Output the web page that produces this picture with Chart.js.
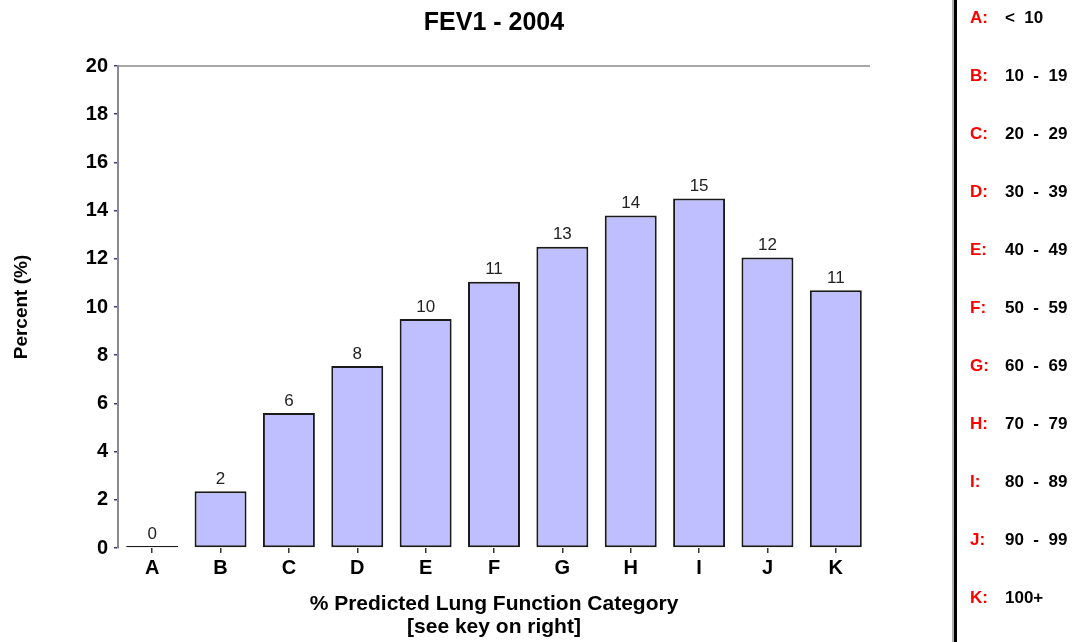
<!DOCTYPE html>
<html>
<head>
<meta charset="utf-8">
<script src="https://cdn.jsdelivr.net/npm/chart.js@4.4.1/dist/chart.umd.min.js"></script>
<style>
  html, body { margin: 0; padding: 0; background: #fff; }
  #wrap { position: relative; width: 1075px; height: 642px; overflow: hidden; background: #fff; }
  #c { position: absolute; left: 0; top: 0; }
  #keyLine { position: absolute; left: 952px; top: 0; width: 2px; height: 642px; background: #b0b0b0; border-right: 3px solid #000; }
  .key { position: absolute; height: 20px; line-height: 20px; font-family: "Liberation Sans", Arial, sans-serif; font-weight: bold; font-size: 17px; white-space: pre; }
  .key .l { position: absolute; left: 0; color: #ff0000; }
  .key .r { position: absolute; left: 35px; color: #000; }
</style>
</head>
<body>
<div id="wrap">
  <canvas id="c" width="1075" height="642"></canvas>
  <div id="keyLine"></div>
</div>
<script>
// ---- data ----
const categories = ['A', 'B', 'C', 'D', 'E', 'F', 'G', 'H', 'I', 'J', 'K'];
const percentValues = [0.06, 2.35, 5.6, 7.55, 9.5, 11.05, 12.5, 13.8, 14.5, 12.05, 10.7];
const valueLabels = ['0', '2', '6', '8', '10', '11', '13', '14', '15', '12', '11'];
const keyRanges = ['<  10', '10  -  19', '20  -  29', '30  -  39', '40  -  49', '50  -  59', '60  -  69', '70  -  79', '80  -  89', '90  -  99', '100+'];
const yTickValues = [0, 2, 4, 6, 8, 10, 12, 14, 16, 18, 20];
const chartTitle = 'FEV1 - 2004';
const yTitle = 'Percent (%)';
const xTitle = ['% Predicted Lung Function Category', '[see key on right]'];

// ---- key on the right (real text) ----
const wrap = document.getElementById('wrap');
categories.forEach((cat, i) => {
  const d = document.createElement('div');
  d.className = 'key';
  d.style.left = '970px';
  d.style.top = (8 + 58 * i) + 'px';
  const l = document.createElement('span'); l.className = 'l'; l.textContent = cat + ':';
  const r = document.createElement('span'); r.className = 'r'; r.textContent = keyRanges[i];
  d.appendChild(l); d.appendChild(r);
  wrap.appendChild(d);
});

const FONT = '"Liberation Sans", Arial, sans-serif';

const valueLabelPlugin = {
  id: 'valueLabels',
  afterDatasetsDraw(chart) {
    const ctx = chart.ctx;
    const meta = chart.getDatasetMeta(0);
    ctx.save();
    ctx.font = '17px ' + FONT;
    ctx.fillStyle = '#222';
    ctx.textAlign = 'center';
    ctx.textBaseline = 'middle';
    meta.data.forEach((bar, i) => {
      ctx.fillText(valueLabels[i], bar.x, bar.y - 12);
    });
    ctx.restore();
  }
};

const topBorderPlugin = {
  id: 'topBorder',
  beforeDatasetsDraw(chart) {
    const { ctx, chartArea } = chart;
    ctx.save();
    ctx.strokeStyle = '#8a8a8a';
    ctx.lineWidth = 1.5;
    ctx.beginPath();
    ctx.moveTo(chartArea.left, chartArea.top);
    ctx.lineTo(chartArea.right, chartArea.top);
    ctx.stroke();
    ctx.restore();
  }
};

new Chart(document.getElementById('c'), {
  type: 'bar',
  data: {
    labels: categories,
    datasets: [{
      data: percentValues,
      backgroundColor: 'rgb(191,191,255)',
      borderColor: '#1a1a1a',
      borderWidth: 2,
      borderSkipped: false,
      minBarLength: 2,
      barPercentage: 0.76,
      categoryPercentage: 1.0
    }]
  },
  options: {
    responsive: false,
    animation: false,
    layout: { padding: { left: 0, right: 205, top: 0, bottom: 0 } },
    plugins: {
      legend: { display: false },
      tooltip: { enabled: false },
      title: {
        display: true,
        text: chartTitle,
        fullSize: false,
        color: '#000',
        font: { family: FONT, size: 25, weight: 'bold', lineHeight: 1.2 },
        padding: { top: 8, bottom: 28 }
      }
    },
    scales: {
      x: {
        afterFit: s => { s.height = 94; },
        border: { display: false },
        grid: { display: true, offset: false, drawOnChartArea: false, drawTicks: true, tickLength: 5, color: '#333', lineWidth: 1.5 },
        ticks: { color: '#000', font: { family: FONT, size: 20, weight: 'bold' }, padding: 3 },
        title: {
          display: true,
          text: xTitle,
          color: '#000',
          font: { family: FONT, size: 21, weight: 'bold', lineHeight: 1.095 },
          padding: { top: 0, bottom: 3.5 }
        }
      },
      y: {
        min: 0,
        max: 20,
        afterFit: s => { s.width = 118; },
        afterBuildTicks: s => { s.ticks = yTickValues.map(v => ({ value: v })); },
        border: { display: true, color: '#8a8a8a', width: 2 },
        grid: { display: true, drawOnChartArea: false, drawTicks: true, tickLength: 4, color: '#3a3a7a', lineWidth: 1.5 },
        ticks: { color: '#000', font: { family: FONT, size: 20, weight: 'bold' }, padding: 6 },
        title: {
          display: true,
          text: yTitle,
          color: '#000',
          font: { family: FONT, size: 19, weight: 'bold', lineHeight: 1.2 },
          padding: { top: 10, bottom: 0 }
        }
      }
    }
  },
  plugins: [valueLabelPlugin, topBorderPlugin]
});
</script>
</body>
</html>
